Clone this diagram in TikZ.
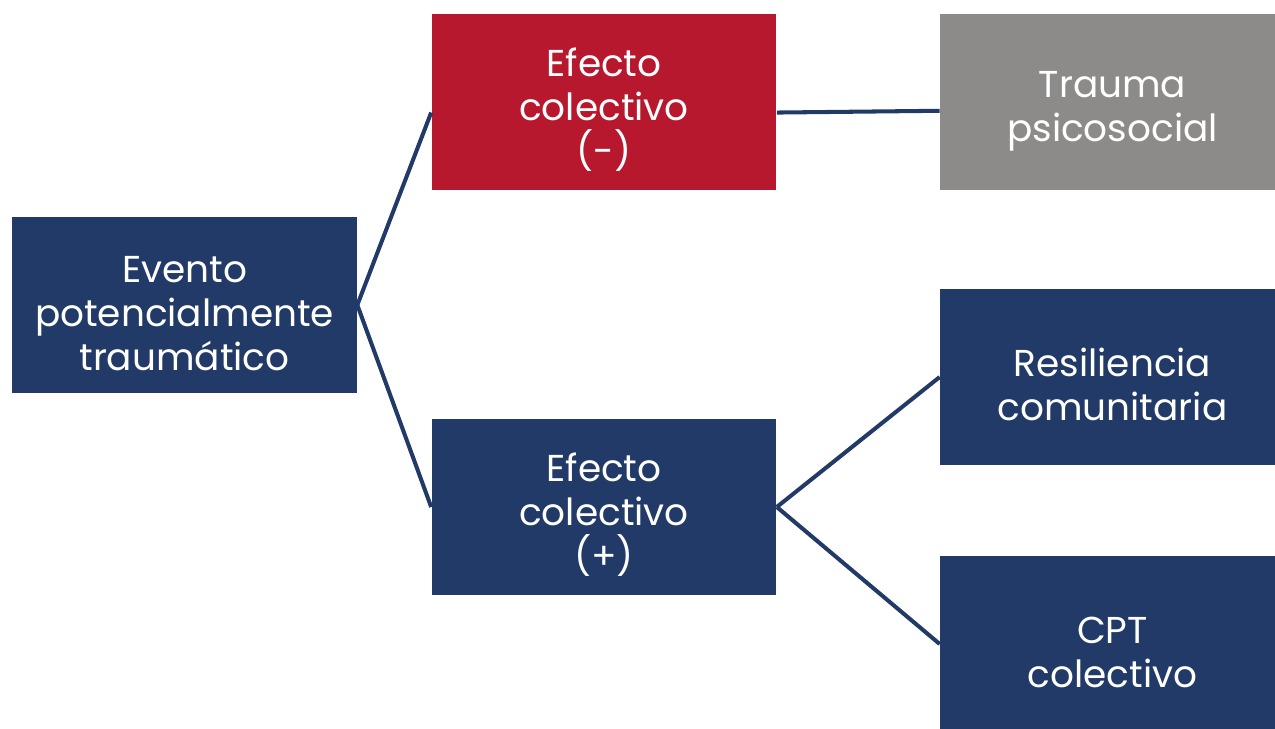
\documentclass[tikz,border=0pt]{standalone}
\usepackage{fontspec}
\setmainfont{Poppins}
\usetikzlibrary{positioning}
\definecolor{navy}{HTML}{223A68}
\definecolor{crimson}{HTML}{B8182D}
\definecolor{stone}{HTML}{8C8B89}
\newcommand{\textdrop}{\rule{0pt}{25pt}}

\begin{document}
\begin{tikzpicture}[x=0.02cm, y=-0.02cm,
    box/.style = {inner sep=0pt, align=center, text=white, font=\fontsize{21.3}{25}\selectfont,
                  minimum width=6.9cm, minimum height=3.52cm},
    bluebox/.style = {box, fill=navy},
    redbox/.style = {box, fill=crimson},
    graybox/.style = {box, fill=stone},
    link/.style = {draw=navy, line width=2.3pt}]
        \useasboundingbox (0,0) rectangle (1275,728);
        \begin{scope}
        \clip (0,0) rectangle (1275,728);
        \node[bluebox] (evento) at (184.5,305) {\textdrop Evento\\potencialmente\\traumático};
        \node[redbox] (neg) at (604,102) {\textdrop Efecto\\colectivo\\(-)};
        \node[bluebox] (pos) at (604,507) {\textdrop Efecto\\colectivo\\(+)};
        \node[graybox] (trauma) at (1112.5,102) {\textdrop Trauma\\psicosocial};
        \node[bluebox] (resil) at (1112.5,377) {\textdrop Resiliencia\\comunitaria};
        \node[bluebox] (cpt) at (1112.5,644) {\textdrop CPT\\colectivo};
        \end{scope}
        \draw[link] (evento.east) -- ([yshift=-6]neg.west);
        \draw[link] (evento.east) -- (pos.west);
        \draw[link] ([yshift=-6]neg.east) -- ([yshift=-5]trauma.west);
        \draw[link] (pos.east) -- (resil.west);
        \draw[link] (pos.east) -- (cpt.west);
    \end{tikzpicture}
\end{document}
